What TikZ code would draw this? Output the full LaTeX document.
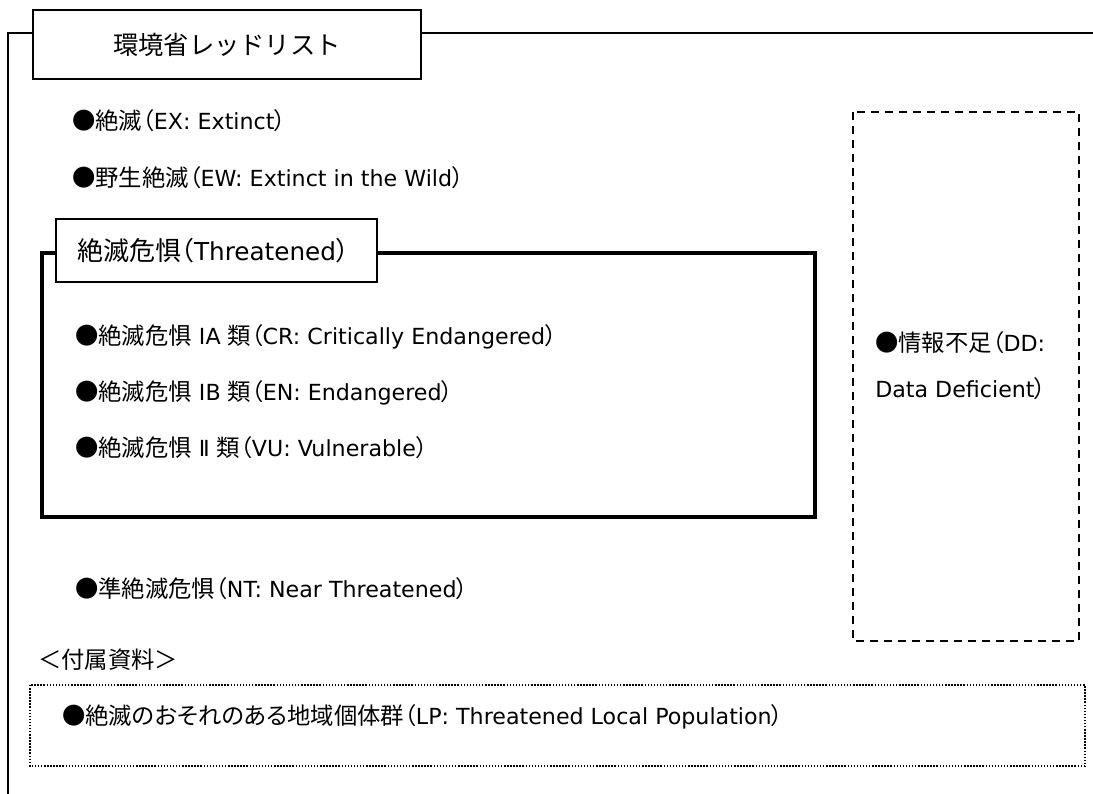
\documentclass[tikz,border=0pt]{standalone}
\usepackage{fontspec}
\setmainfont{DejaVu Sans}[Scale=0.95]
\newfontfamily\cj{Noto Sans CJK JP}
\newfontfamily\cjp{Noto Sans CJK JP}[RawFeature=+palt]
\newcommand\lpar{{\cjp （}}
\newcommand\rpar{{\cjp ）}}
\begin{document}
\begin{tikzpicture}[x=0.75pt,y=-0.75pt,
  frame/.style={line width=1.5pt,line cap=rect},
  thick frame/.style={line width=3pt,line cap=rect},
  titlebox/.style={draw,line width=1.5pt,fill=white,inner sep=0pt,
    minimum width=291pt,minimum height=51.75pt,
    font=\fontsize{19}{22}\selectfont},
  labelbox/.style={draw,line width=1.5pt,fill=white,inner sep=0pt,
    minimum width=240.75pt,minimum height=47.25pt,
    text width=209.25pt,align=left,
    font=\fontsize{19.5}{22}\selectfont},
  item/.style={anchor=west,inner sep=0pt,text height=0.88em,text depth=0.12em,
    font=\fontsize{17.5}{20}\selectfont},
  ddbox/.style={line width=1.2pt,dash pattern=on 6pt off 4.5pt},
  dotbox/.style={line width=1.2pt,dash pattern=on 1.1pt off 1.2pt}]
\useasboundingbox (0,0) rectangle (1093,793);
% outer frame
\coordinate (otl) at (8,33);
\coordinate (obl) at (8,800);
\coordinate (otr) at (1100,33);
\node[titlebox] (title) at (227,44.5) {\cj 環境省レッドリスト};
\draw[frame] (title.west |- otl) -- (otl) -- (obl);
\draw[frame] (title.east |- otl) -- (otr);
% extinct items
\node[item] (ex) at (72,125) {{\cj ●絶滅}\lpar EX: Extinct\rpar};
\node[item] (ew) at (72,182) {{\cj ●野生絶滅}\lpar EW: Extinct in the Wild\rpar};
% threatened frame
\coordinate (ttl) at (42,253);
\coordinate (ttr) at (815,253);
\coordinate (tbr) at (815,517);
\coordinate (tbl) at (42,517);
\draw[thick frame] (56,253) -- (ttl) -- (tbl) -- (tbr) -- (ttr) -- (377,253);
\node[labelbox] (tlabel) at (216.5,250.5) {{\cj 絶滅危惧}\lpar Threatened\rpar};
\node[item] (cr) at (75,340) {{\cj ●絶滅危惧} IA {\cj 類}\lpar CR: Critically Endangered\rpar};
\node[item] (en) at (75,396) {{\cj ●絶滅危惧} IB {\cj 類}\lpar EN: Endangered\rpar};
\node[item] (vu) at (75,452) {{\cj ●絶滅危惧} Ⅱ {\cj 類}\lpar VU: Vulnerable\rpar};
\node[item] (nt) at (75,593) {{\cj ●準絶滅危惧}\lpar NT: Near Threatened\rpar};
% data deficient
\draw[ddbox] (853,112) rectangle (1079,641);
\node[item] (dd1) at (875,347) {{\cj ●情報不足}\lpar DD:};
\node[item] (dd2) at (875,393) {Data Deficient\rpar};
% appendix
\node[item] (app) at (38,664) {\cj ＜付属資料＞};
\draw[dotbox] (30,685) rectangle (1085,766);
\node[item] (lp) at (62,720) {{\cj ●}{\cjp 絶滅のおそれのある地域個体群}\lpar LP: Threatened Local Population\rpar};
\end{tikzpicture}
\end{document}
